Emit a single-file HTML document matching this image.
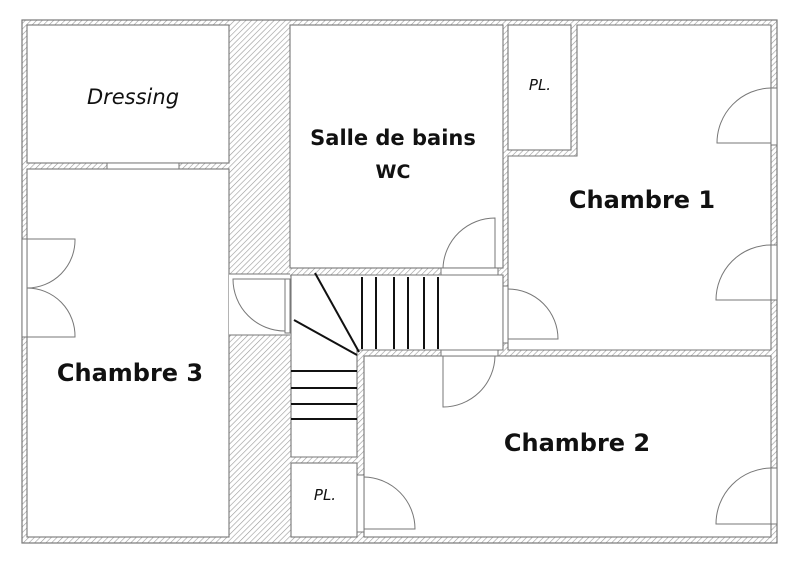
<!DOCTYPE html>
<html><head><meta charset="utf-8"><style>
html,body{margin:0;padding:0;background:#fff;}
svg{display:block;}
text{font-family:"DejaVu Sans","Liberation Sans",sans-serif;fill:#111;}
</style></head><body>
<svg width="800" height="565" viewBox="0 0 800 565" xmlns="http://www.w3.org/2000/svg">
<defs>
<pattern id="h" patternUnits="userSpaceOnUse" width="4" height="4" patternTransform="rotate(45)">
<rect width="4" height="4" fill="#fff"/>
<line x1="0" y1="0" x2="0" y2="4" stroke="#999" stroke-width="1.2"/>
</pattern>
</defs>
<rect x="22" y="20" width="755" height="523" fill="url(#h)" stroke="#777" stroke-width="1.2"/>
<g fill="#fff" stroke="#777" stroke-width="1.1">
<rect x="27" y="25" width="202" height="138"/>
<rect x="27" y="169" width="202" height="368"/>
<rect x="290" y="25" width="213" height="243"/>
<rect x="508" y="25" width="63" height="125"/>
<path d="M577 25 H771 V350 H508 V156 H577 Z"/>
<path d="M291 275 H503 V350 H357 V457 H291 Z"/>
<rect x="291" y="463" width="66" height="74"/>
<rect x="364" y="356" width="407" height="181"/>
</g>
<g fill="#fff" stroke="#777" stroke-width="1">
<rect x="107" y="163" width="72" height="6"/>
<rect x="229" y="274" width="61" height="61" stroke="none"/>
<line x1="229" y1="274" x2="290" y2="274"/><line x1="229" y1="335" x2="290" y2="335"/>
<rect x="285" y="279" width="5" height="54"/>
<rect x="441" y="268" width="57" height="7"/>
<rect x="441" y="350" width="57" height="6"/>
<rect x="503" y="286" width="5" height="57"/>
<rect x="357" y="475" width="7" height="57"/>
<rect x="22" y="239" width="5" height="98"/>
<rect x="771" y="88" width="6" height="57"/>
<rect x="771" y="245" width="6" height="55"/>
<rect x="771" y="468" width="6" height="56"/>
</g>
<g fill="none" stroke="#777" stroke-width="1">
<path d="M27 239 H75 A48 48 0 0 1 27 288"/>
<path d="M27 337 H75 A48 48 0 0 0 27 288"/>
<path d="M285 279 H233 A52 52 0 0 0 285 331"/>
<path d="M495 268 V218 A52 52 0 0 0 443 268"/>
<path d="M443 356 V407 A52 52 0 0 0 495 356"/>
<path d="M508 289 A50 50 0 0 1 558 339 H508"/>
<path d="M364 477 A52 52 0 0 1 415 529 H364"/>
<path d="M771 143 H717 A55 55 0 0 1 771 88"/>
<path d="M771 300 H716 A55 55 0 0 1 771 245"/>
<path d="M771 524 H716 A56 56 0 0 1 771 468"/>
</g>
<g stroke="#111" stroke-width="2">
<line x1="315" y1="273" x2="359" y2="352"/>
<line x1="294" y1="320" x2="357" y2="355"/>
<line x1="362" y1="277" x2="362" y2="349"/>
<line x1="376" y1="277" x2="376" y2="349"/>
<line x1="394" y1="277" x2="394" y2="349"/>
<line x1="408" y1="277" x2="408" y2="349"/>
<line x1="424" y1="277" x2="424" y2="349"/>
<line x1="438" y1="277" x2="438" y2="349"/>
<line x1="291" y1="371" x2="357" y2="371"/>
<line x1="291" y1="388" x2="357" y2="388"/>
<line x1="291" y1="404" x2="357" y2="404"/>
<line x1="291" y1="419" x2="357" y2="419"/>
</g>
<text x="133" y="104" font-size="21" font-style="italic" text-anchor="middle">Dressing</text>
<text x="393" y="145" font-size="21" font-weight="bold" text-anchor="middle">Salle de bains</text>
<text x="393" y="178" font-size="19" font-weight="bold" text-anchor="middle">WC</text>
<text x="540" y="90" font-size="15" font-style="italic" text-anchor="middle">PL.</text>
<text x="325" y="500" font-size="15" font-style="italic" text-anchor="middle">PL.</text>
<text x="642" y="208" font-size="24" font-weight="bold" text-anchor="middle">Chambre 1</text>
<text x="130" y="381" font-size="24" font-weight="bold" text-anchor="middle">Chambre 3</text>
<text x="577" y="451" font-size="24" font-weight="bold" text-anchor="middle">Chambre 2</text>
</svg>
</body></html>
